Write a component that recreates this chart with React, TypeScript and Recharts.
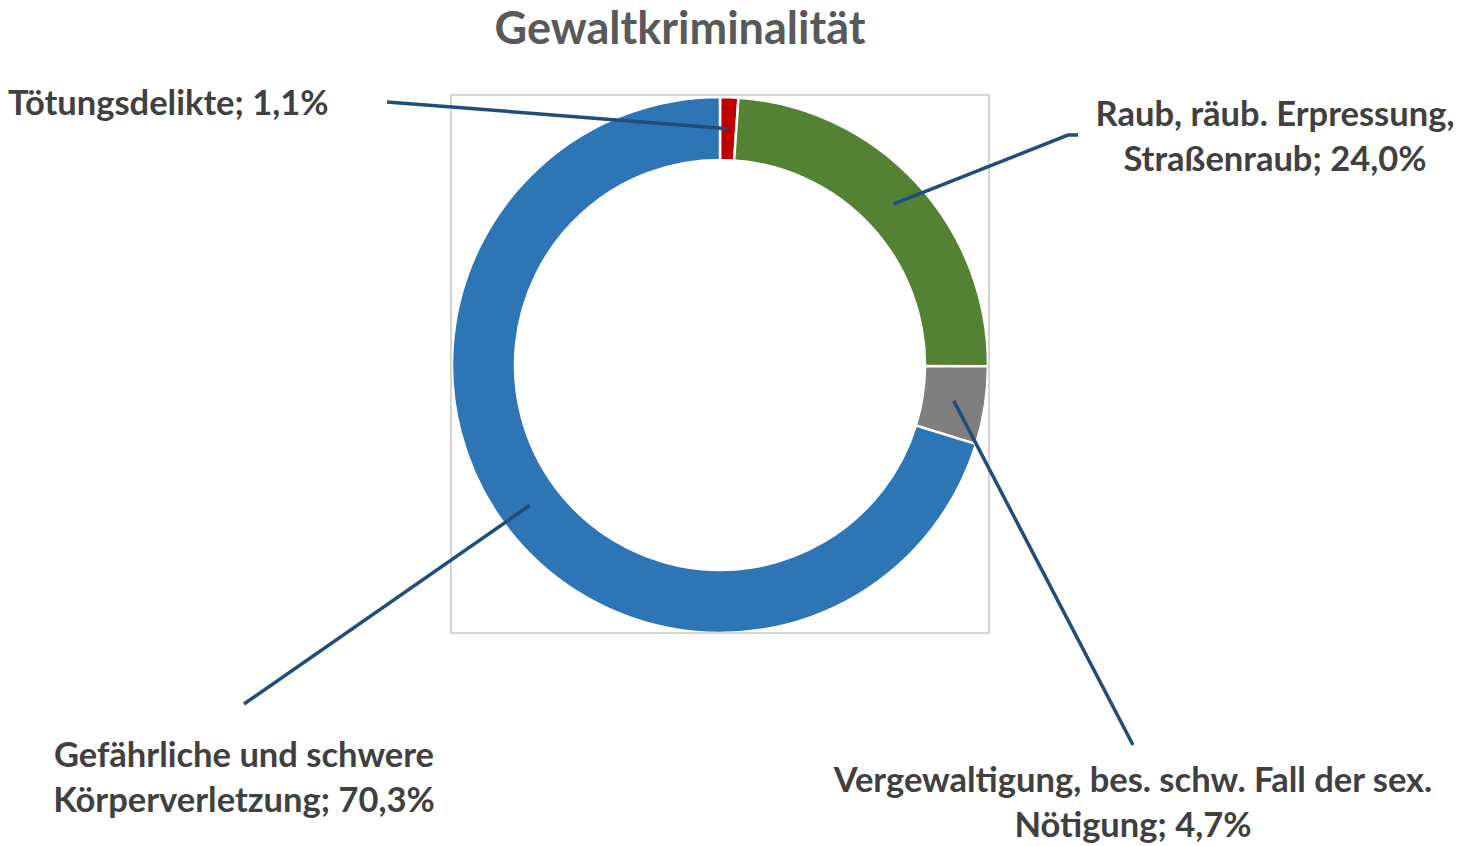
import React from 'react';
import { PieChart, Pie, Cell } from 'recharts';

const categories = [
  'Tötungsdelikte',
  'Raub, räub. Erpressung, Straßenraub',
  'Vergewaltigung, bes. schw. Fall der sex. Nötigung',
  'Gefährliche und schwere Körperverletzung',
];
const values = [1.1, 24.0, 4.7, 70.3];
const labelLines = [
  ['Tötungsdelikte; 1,1%'],
  ['Raub, räub. Erpressung,', 'Straßenraub; 24,0%'],
  ['Vergewaltigung, bes. schw. Fall der sex.', 'Nötigung; 4,7%'],
  ['Gefährliche und schwere', 'Körperverletzung; 70,3%'],
];
const colors = ['#C00000', '#548235', '#7F7F7F', '#2E75B6'];

const data = categories.map((name, i) => ({ name, value: values[i] }));

// label layout (offsets relative to the pie centre)
const layout = [
  { ax: -333, ay: -263, tx: -712, ty: -250, anchor: 'start', elbow: null },
  { ax: 348, ay: -230, tx: 555, ty: -239, anchor: 'middle', elbow: 358 },
  { ax: 413, ay: 380, tx: 413, ty: 427, anchor: 'middle', elbow: null },
  { ax: -476, ay: 339, tx: -476, ty: 402, anchor: 'middle', elbow: null },
];

const FONT = 'Lato, "Noto Sans", sans-serif';
const RAD = Math.PI / 180;

const renderLabel = (props: any) => {
  const { cx, cy, midAngle, innerRadius, outerRadius, index } = props;
  const r = (innerRadius + outerRadius) / 2;
  const sx = cx + r * Math.cos(-midAngle * RAD);
  const sy = cy + r * Math.sin(-midAngle * RAD);
  const L = layout[index];
  const ax = cx + L.ax;
  const ay = cy + L.ay;
  const pts = L.elbow != null ? `${sx},${sy} ${ax},${ay} ${cx + L.elbow},${ay}` : `${sx},${sy} ${ax},${ay}`;
  return (
    <g key={`lbl-${index}`}>
      {index === 0 && (
        <rect
          x={cx - outerRadius - 1}
          y={cy - outerRadius - 2}
          width={2 * outerRadius + 2}
          height={2 * outerRadius + 2}
          fill="none"
          stroke="#BFBFBF"
          strokeWidth={1.3}
        />
      )}
      <polyline points={pts} fill="none" stroke="#1F4E79" strokeWidth={3.5} />
      <text
        x={cx + L.tx}
        y={cy + L.ty}
        textAnchor={L.anchor as any}
        fill="#404040"
        fontFamily={FONT}
        fontWeight={700}
        fontSize={34.5}
      >
        {labelLines[index].map((t, k) => (
          <tspan key={k} x={cx + L.tx} dy={k === 0 ? 0 : 45}>
            {t}
          </tspan>
        ))}
      </text>
    </g>
  );
};

export default function App() {
  return (
    <div style={{ position: 'absolute', left: 0, top: 0, width: 1459, height: 846, background: '#fff' }}>
      <PieChart width={1459} height={846} style={{ position: 'absolute', left: 0, top: 0 }}>
        <Pie
          data={data}
          dataKey="value"
          nameKey="name"
          cx={715}
          cy={360}
          innerRadius={205}
          outerRadius={268}
          startAngle={90}
          endAngle={-270}
          stroke="#FFFFFF"
          strokeWidth={2.5}
          label={renderLabel}
          labelLine={false}
          isAnimationActive={false}
        >
          {data.map((d, i) => (
            <Cell key={d.name} fill={colors[i]} />
          ))}
        </Pie>
      </PieChart>
      <div
        style={{
          position: 'absolute',
          left: 0,
          top: 0,
          width: 1360,
          textAlign: 'center',
          fontFamily: FONT,
          fontWeight: 700,
          fontSize: 45,
          color: '#595959',
          lineHeight: 'normal',
        }}
      >
        Gewaltkriminalität
      </div>
    </div>
  );
}
